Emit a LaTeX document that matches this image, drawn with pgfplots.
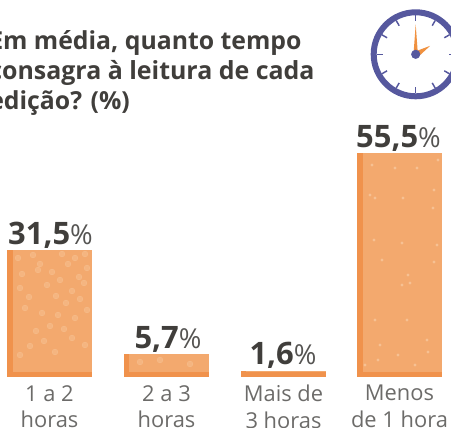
\documentclass[border=0pt]{standalone}
\usepackage{pgfplots}
\pgfplotsset{compat=1.18}
\usepackage{fontspec}
\setmainfont{Open Sans}
\definecolor{bardark}{HTML}{F0924C}
\definecolor{barlight}{HTML}{F3A96E}
\definecolor{speck}{HTML}{FBD2AC}
\definecolor{titlec}{HTML}{403E3B}
\definecolor{labc}{HTML}{6C6B69}
\definecolor{pctc}{HTML}{555452}
\definecolor{clockc}{HTML}{56589E}
\definecolor{handc}{HTML}{F0913F}
\newcommand{\val}[1]{{\fontsize{23.2pt}{24pt}\selectfont\textbf{#1}{\color{pctc}\fontsize{20.6pt}{24pt}\selectfont\%}}}
\begin{document}
\begin{tikzpicture}
\clip (0,-38.25pt) rectangle (338.25pt,282.75pt);
\begin{axis}[
  at={(0,0)}, anchor=south west,
  width=338.25pt, height=282.75pt, scale only axis,
  xmin=0, xmax=451, ymin=0, ymax=93.55,
  axis line style={draw=none}, tick style={draw=none},
  ymajorticks=false, clip=false,
  xtick={49.5,166.5,283.5,399.5},
  xticklabels={1 a 2\\horas,2 a 3\\horas,Mais de\\3 horas,Menos\\de 1 hora},
  xticklabel style={align=center,text=labc,font=\fontsize{16.4pt}{19.8pt}\selectfont,inner sep=0pt,yshift=-6pt},
]
% dark base bars
\addplot[fill=bardark,draw=none] coordinates {(7,0)(92,0)(92,31.5)(7,31.5)} --cycle;
\addplot[fill=bardark,draw=none] coordinates {(124,0)(209,0)(209,5.7)(124,5.7)} --cycle;
\addplot[fill=bardark,draw=none] coordinates {(241,0)(326,0)(326,1.6)(241,1.6)} --cycle;
\addplot[fill=bardark,draw=none] coordinates {(357,0)(442,0)(442,55.5)(357,55.5)} --cycle;
% lighter faces
\addplot[fill=barlight,draw=none] coordinates {(13,1.25)(92,1.25)(92,31.5)(13,31.5)} --cycle;
\addplot[fill=barlight,draw=none] coordinates {(129,1.25)(209,1.25)(209,5.7)(129,5.7)} --cycle;
\addplot[fill=barlight,draw=none] coordinates {(246,1.25)(326,1.25)(326,1.6)(246,1.6)} --cycle;
\addplot[fill=barlight,draw=none] coordinates {(363,1.25)(442,1.25)(442,55.5)(363,55.5)} --cycle;
% value labels
\addplot[only marks,mark=none,
  nodes near coords,point meta=explicit symbolic,
  every node near coord/.style={anchor=south,inner sep=0pt,yshift=1pt,text=titlec}]
  coordinates {(50.5,31.5)[\val{31,5}] (168,5.7)[\val{5,7}] (283,1.6)[\val{1,6}] (398.5,55.5)[\val{55,5}]};
\end{axis}
% texture of the bars, in picture pixels
\begin{axis}[
  at={(0,0)}, anchor=south west,
  width=338.25pt, height=282.75pt, scale only axis,
  xmin=0, xmax=451, ymin=0, ymax=377, y dir=reverse, hide axis,clip=false]
\addplot[only marks,mark=*,mark size=2.2pt,mark options={draw=speck,fill=speck,opacity=0.3}] coordinates {
(18,258)(33,255)(40,264)(62,254)(75,258)(85,254)(87,268)(22,274)(38,270)(52,272)(68,264)(79,277)
(20,288)(47,285)(60,280)(72,291)(84,283)(29,297)(56,296)(66,303)(80,299)(87,310)
(25,308)(42,313)(58,315)(75,318)(36,331)(50,326)(64,329)(44,341)(30,346)(72,338)(20,355)(55,352)(85,345)
(140,362)(160,360)(190,364)};
\addplot[only marks,mark=*,mark size=1pt,mark options={draw=speck,fill=speck,opacity=0.45}] coordinates {
(372,165)(395,168)(417,168)(438,160)(370,195)(375,198)(403,198)(434,190)(433,208)(374,240)(402,243)(437,245)
(382,260)(434,262)(408,275)(402,285)(410,283)(375,320)(407,320)(427,340)(380,345)(428,352)(378,360)(415,365)(365,365)(398,355)};
\end{axis}
\begin{scope}[x=0.75pt,y=-0.75pt,shift={(0,-377)}]
% title
\node[anchor=base west,inner sep=0pt,text=titlec,font=\bfseries\fontsize{18.6pt}{20pt}\selectfont] at (-11,50) {Em média, quanto tempo};
\node[anchor=base west,inner sep=0pt,text=titlec,font=\bfseries\fontsize{18.7pt}{20pt}\selectfont] at (-11,80) {consagra à leitura de cada};
\node[anchor=base west,inner sep=0pt,text=titlec,font=\bfseries\fontsize{18.6pt}{20pt}\selectfont] at (-11,109.5) {edição? (\%)};
% clock
\begin{scope}[shift={(415.7,54.3)}]
\draw[clockc,line width=4.5pt] (0,0) circle (42);
\foreach \a in {0,30,...,330} \draw[clockc,line width=1.1pt] (\a:39) -- (\a:33);
\fill[handc] (-2.2,0) -- (0,-30) -- (2.2,0) -- cycle;
\fill[handc] (0,-3) -- (14.5,-8.5) -- (2,3) -- cycle;
\fill[clockc] (0,0) circle (4.6);
\end{scope}
\end{scope}
\end{tikzpicture}
\end{document}
